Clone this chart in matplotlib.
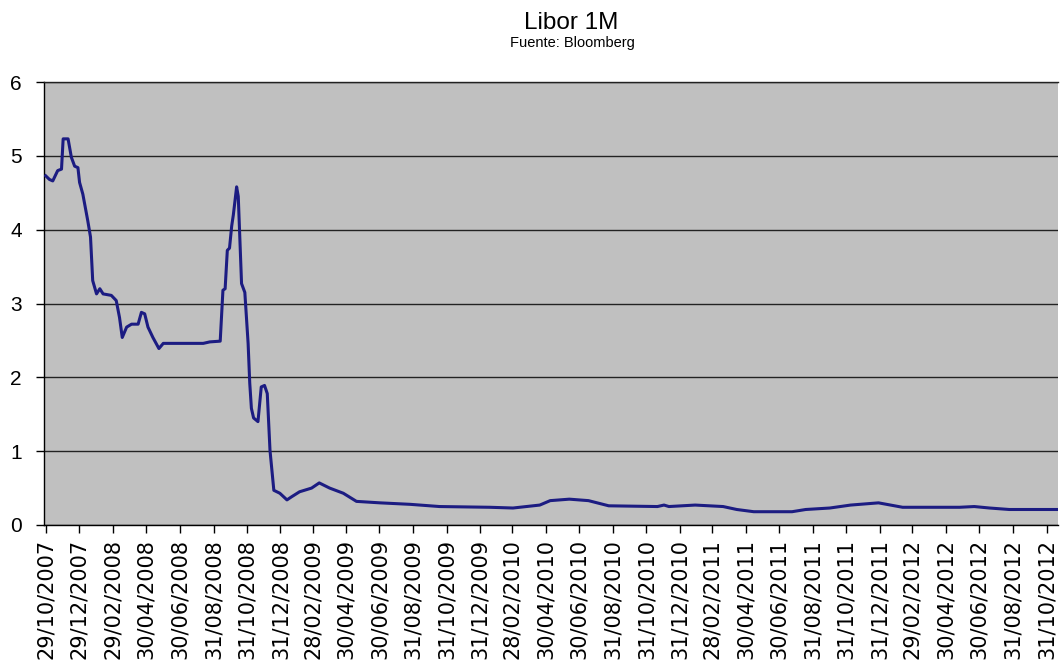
import matplotlib
matplotlib.use("Agg")
import matplotlib.pyplot as plt
import pandas as pd

plt.rcParams['font.family'] = ['Liberation Sans', 'DejaVu Sans']

title = "Libor 1M"
subtitle = "Fuente: Bloomberg"

dates = [
    "2007-10-29", "2007-11-05", "2007-11-11", "2007-11-20", "2007-11-27", "2007-11-30",
    "2007-12-09", "2007-12-15", "2007-12-21", "2007-12-27", "2007-12-30", "2008-01-05",
    "2008-01-14", "2008-01-19", "2008-01-23", "2008-01-30", "2008-02-05", "2008-02-11",
    "2008-02-26", "2008-03-06", "2008-03-12", "2008-03-17", "2008-03-25", "2008-04-03",
    "2008-04-15", "2008-04-21", "2008-04-27", "2008-05-03", "2008-05-12", "2008-05-23",
    "2008-05-31", "2008-06-12", "2008-06-30", "2008-08-12", "2008-08-24", "2008-09-12",
    "2008-09-17", "2008-09-21", "2008-09-25", "2008-09-29", "2008-10-03", "2008-10-06",
    "2008-10-12", "2008-10-15", "2008-10-21", "2008-10-27", "2008-11-02", "2008-11-05",
    "2008-11-08", "2008-11-12", "2008-11-20", "2008-11-26", "2008-12-02", "2008-12-07",
    "2008-12-12", "2008-12-19", "2008-12-30", "2009-01-12", "2009-01-20", "2009-02-04",
    "2009-02-26", "2009-03-12", "2009-03-31", "2009-04-25", "2009-05-19", "2009-07-01",
    "2009-08-25", "2009-10-18", "2010-01-18", "2010-03-01", "2010-04-19", "2010-05-08",
    "2010-06-12", "2010-07-17", "2010-08-23", "2010-11-20", "2010-12-02", "2010-12-11",
    "2011-01-28", "2011-03-20", "2011-04-14", "2011-05-15", "2011-07-24", "2011-08-18",
    "2011-10-01", "2011-11-08", "2011-12-29", "2012-02-11", "2012-05-25", "2012-06-21",
    "2012-07-19", "2012-08-24", "2012-11-21",
]
libor_1m = [
    4.73, 4.68, 4.66, 4.80, 4.82, 5.23,
    5.23, 4.98, 4.86, 4.84, 4.64, 4.48,
    4.12, 3.90, 3.31, 3.13, 3.20, 3.13,
    3.11, 3.04, 2.81, 2.54, 2.68, 2.72,
    2.72, 2.88, 2.86, 2.68, 2.54, 2.39,
    2.46, 2.46, 2.46, 2.46, 2.48, 2.49,
    3.18, 3.20, 3.72, 3.75, 4.05, 4.20,
    4.58, 4.45, 3.27, 3.15, 2.46, 1.92,
    1.58, 1.45, 1.40, 1.87, 1.89, 1.78,
    1.01, 0.47, 0.43, 0.34, 0.38, 0.45,
    0.50, 0.57, 0.50, 0.43, 0.32, 0.30,
    0.28, 0.25, 0.24, 0.23, 0.27, 0.33,
    0.35, 0.33, 0.26, 0.25, 0.27, 0.25,
    0.27, 0.25, 0.21, 0.18, 0.18, 0.21,
    0.23, 0.27, 0.30, 0.24, 0.24, 0.25,
    0.23, 0.21, 0.21,
]
tick_dates = [
    "2007-10-29", "2007-12-29", "2008-02-29", "2008-04-30", "2008-06-30", "2008-08-31",
    "2008-10-31", "2008-12-31", "2009-02-28", "2009-04-30", "2009-06-30", "2009-08-31",
    "2009-10-31", "2009-12-31", "2010-02-28", "2010-04-30", "2010-06-30", "2010-08-31",
    "2010-10-31", "2010-12-31", "2011-02-28", "2011-04-30", "2011-06-30", "2011-08-31",
    "2011-10-31", "2011-12-31", "2012-02-29", "2012-04-30", "2012-06-30", "2012-08-31",
    "2012-10-31",
]
y_ticks = [0, 1, 2, 3, 4, 5, 6]

x = pd.to_datetime(dates)
tx = pd.to_datetime(tick_dates)
tick_labels = [d.strftime("%d/%m/%Y") for d in tx]

fig = plt.figure(figsize=(10.61, 6.70), dpi=100)
ax = fig.add_axes([44 / 1061, 1 - 525 / 670, (1058 - 44) / 1061, (525 - 82) / 670])
ax.set_facecolor("#c0c0c0")

ax.plot(x, libor_1m, color="#1c1c82", lw=2.2, solid_joinstyle="round", zorder=3)

ax.set_ylim(0, 6)
ax.set_yticks(y_ticks)
ax.set_yticklabels([str(v) for v in y_ticks], fontsize=15)
ax.set_xlim(pd.Timestamp("2007-10-26"), pd.Timestamp("2012-11-21"))
ax.set_xticks(tx)
ax.set_xticklabels(tick_labels, rotation=90, fontsize=15, ha="center", va="top",
                   family=["DejaVu Sans"])

ax.yaxis.grid(True, color="#222222", lw=1.0)
ax.set_axisbelow(True)
ax.tick_params(axis="y", direction="out", length=6, width=1, pad=10, colors="black")
ax.tick_params(axis="x", direction="out", length=6, width=1, pad=4, colors="black")

for s in ["left", "bottom"]:
    ax.spines[s].set_color("black")
    ax.spines[s].set_linewidth(1.0)
ax.spines["right"].set_visible(False)
ax.spines["top"].set_color("#222222")
ax.spines["top"].set_linewidth(1.0)

fig.text(571 / 1061, 1 - 29 / 670, title, ha="center", va="baseline", fontsize=17.5)
fig.text(572 / 1061, 1 - 47 / 670, subtitle, ha="center", va="baseline", fontsize=10.5)

fig.savefig("out.png", dpi=100, facecolor="white")
